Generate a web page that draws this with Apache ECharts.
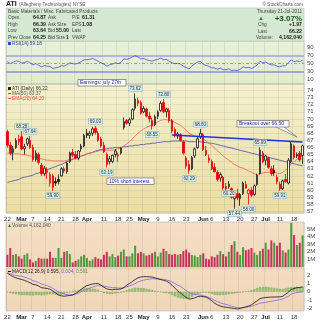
<!DOCTYPE html>
<html><head><meta charset="utf-8">
<script src="https://cdn.jsdelivr.net/npm/echarts@6/dist/echarts.min.js"></script>
<style>html,body{margin:0;padding:0;background:#fff}#c{width:320px;height:320px}</style>
</head><body><div id="c"></div>
<script>
const dates = ['02-22','02-23','02-24','02-25','02-28',
'03-01','03-02','03-03','03-04','03-07','03-08','03-09','03-10','03-11','03-14','03-15','03-16','03-17','03-18','03-21','03-22','03-23','03-24','03-25','03-28','03-29','03-30','03-31',
'04-01','04-04','04-05','04-06','04-07','04-08','04-11','04-12','04-13','04-14','04-15','04-18','04-19','04-20','04-21','04-25','04-26','04-27','04-28','04-29',
'05-02','05-03','05-04','05-05','05-06','05-09','05-10','05-11','05-12','05-13','05-16','05-17','05-18','05-19','05-20','05-23','05-24','05-25','05-26','05-27','05-31',
'06-01','06-02','06-03','06-06','06-07','06-08','06-09','06-10','06-13','06-14','06-15','06-16','06-17','06-20','06-21','06-22','06-23','06-24','06-27','06-28','06-29','06-30',
'07-01','07-05','07-06','07-07','07-08','07-11','07-12','07-13','07-14','07-15','07-18','07-19','07-20','07-21'];

const opens = [68.2,66.3,65.3,66.0,67.2,67.5,65.8,66.5,67.0,66.0,64.3,65.0,63.5,62.3,62.5,61.0,62.0,61.2,61.5,62.0,63.0,62.6,64.0,65.3,65.0,64.5,65.8,66.2,68.0,67.7,68.0,68.7,68.0,67.2,66.3,65.0,64.0,64.0,65.0,64.8,65.2,68.8,69.8,69.4,70.0,71.5,72.6,72.3,71.0,71.4,70.4,69.8,69.2,70.4,71.2,72.3,71.0,71.2,69.8,68.5,67.6,67.8,66.8,64.5,63.6,63.0,64.8,66.0,67.5,67.8,65.6,64.5,64.0,63.2,62.5,61.7,61.8,60.5,60.5,60.2,58.8,59.5,58.8,59.5,60.8,59.5,60.0,59.4,60.8,62.3,65.2,64.2,64.5,63.0,62.8,61.8,60.8,60.2,61.5,61.0,64.0,66.2,64.8,65.2,64.87];
const highs = [68.5,66.8,66.2,67.3,67.8,68.3,66.5,67.4,67.6,66.4,65.6,65.3,63.8,63.4,63.2,62.5,62.3,61.8,62.2,63.2,63.3,64.0,65.4,65.8,65.5,65.6,66.5,67.9,68.6,68.3,68.9,69.0,68.3,67.5,66.8,65.3,64.8,65.0,65.8,65.3,66.0,70.2,70.0,70.2,71.5,73.6,73.0,72.6,71.8,71.6,71.0,70.2,70.6,71.2,72.5,72.8,71.6,71.5,70.0,68.8,68.2,68.0,67.0,64.8,64.2,64.8,66.0,67.5,68.6,68.0,66.2,65.0,64.3,63.8,62.8,62.5,62.0,61.0,61.3,60.4,59.6,60.2,59.6,61.2,61.3,60.2,60.4,60.8,62.3,66.0,65.5,65.0,64.7,63.4,63.5,62.2,61.2,61.5,62.3,64.5,66.8,66.4,65.3,65.5,66.39];
const lows = [66.0,64.9,64.2,65.8,66.3,65.6,65.0,66.2,65.8,64.0,64.0,63.6,62.0,62.0,61.6,60.5,59.9,60.6,60.8,61.9,62.4,62.3,63.8,64.6,64.3,64.2,65.4,66.0,67.3,67.2,67.6,67.8,66.8,66.0,65.2,63.2,63.6,63.8,64.6,64.0,65.0,68.5,69.2,69.0,69.8,71.2,71.8,70.6,70.8,70.2,69.5,68.5,69.0,70.0,71.0,70.8,70.2,69.5,68.0,67.4,67.2,66.8,65.0,63.0,62.3,62.8,64.5,65.8,67.2,65.5,64.8,63.8,62.8,62.5,61.2,61.2,60.0,59.8,60.2,58.8,57.4,58.6,57.8,59.3,60.2,58.0,59.0,59.2,60.6,62.2,63.8,63.5,63.0,62.0,62.0,60.8,59.9,60.0,61.0,60.8,63.8,64.3,64.5,64.0,63.64];
const closes = [66.3,65.2,65.8,67.0,66.8,65.8,66.1,67.2,66.0,64.3,65.2,63.9,62.3,63.1,62.8,62.2,60.4,61.0,61.2,63.0,62.7,63.8,65.2,64.9,64.5,65.5,66.2,67.7,67.7,68.0,68.6,68.1,67.0,66.2,65.4,63.6,64.4,64.9,65.5,65.0,65.9,69.6,69.4,69.9,71.3,72.8,72.2,70.8,71.5,70.4,70.0,69.0,70.3,71.0,72.2,71.0,71.4,69.8,68.3,67.6,67.9,67.0,65.2,63.4,62.8,64.6,65.8,67.2,68.0,65.7,65.0,64.2,63.0,62.6,61.5,62.2,60.3,60.2,60.8,59.0,59.2,58.9,59.4,61.0,60.3,60.0,59.3,60.6,62.1,65.6,64.0,64.8,63.2,62.3,62.4,61.2,60.2,61.3,61.2,64.2,66.5,64.6,65.0,64.25,66.22];
const volumes = [1.6,2.5,1.6,1.7,1.4,1.1,1.6,1.8,1.0,0.6,0.8,1.2,1.1,1.1,1.1,2.0,1.2,1.2,2.5,1.2,2.0,2.1,1.7,0.6,0.8,1.0,1.4,1.6,1.2,0.8,1.0,1.3,1.1,1.0,1.6,2.0,1.4,1.7,1.3,1.5,2.0,2.3,1.4,1.4,1.8,2.8,1.8,2.0,1.8,1.5,1.6,1.8,2.0,1.4,1.9,2.4,2.1,1.7,1.6,1.7,1.6,1.7,2.1,2.3,1.9,1.6,1.5,1.3,1.6,1.8,1.1,1.0,1.4,1.3,1.6,2.1,1.7,1.4,2.0,2.9,3.4,2.0,1.6,2.6,2.2,2.3,2.5,1.9,1.6,2.1,2.4,3.2,2.3,3.5,3.2,2.8,3.2,2.2,1.9,2.3,5.8,4.2,2.9,3.2,4.16];
const ma50 = [61.1,61.2,61.3,61.4,61.5,61.7,61.8,61.9,62.0,62.1,62.3,62.4,62.6,62.7,62.9,63.0,63.2,63.3,63.5,63.6,63.8,64.0,64.2,64.3,64.5,64.6,64.8,64.9,65.1,65.2,65.3,65.5,65.6,65.7,65.8,65.8,65.9,65.9,66.0,66.0,66.0,66.1,66.1,66.2,66.2,66.3,66.3,66.4,66.4,66.5,66.5,66.6,66.6,66.7,66.7,66.8,66.8,66.8,66.9,66.9,66.9,66.9,66.9,66.9,66.8,66.8,66.8,66.8,66.8,66.7,66.7,66.6,66.6,66.5,66.4,66.3,66.2,66.1,66.0,65.9,65.8,65.7,65.6,65.5,65.4,65.3,65.2,65.1,65.0,64.9,64.8,64.7,64.6,64.5,64.4,64.3,64.2,64.1,64.0,63.9,63.8,63.7,63.6,63.5,63.4];
const ema20 = [65.2,65.2,65.1,65.1,65.1,65.0,65.0,64.9,64.8,64.7,64.6,64.5,64.4,64.3,64.2,64.2,64.1,64.1,64.1,64.1,64.1,64.2,64.3,64.4,64.5,64.6,64.8,64.9,65.1,65.2,65.3,65.4,65.5,65.6,65.6,65.6,65.6,65.6,65.7,65.8,65.9,66.2,66.5,66.8,67.2,67.6,68.0,68.3,68.6,68.8,69.0,69.2,69.4,69.6,69.8,69.9,69.9,69.8,69.7,69.5,69.3,69.1,68.8,68.4,68.0,67.8,67.6,67.5,67.4,67.2,66.9,66.6,66.3,65.9,65.5,65.2,64.8,64.5,64.2,63.9,63.6,63.4,63.2,63.1,62.9,62.7,62.5,62.3,62.2,62.3,62.4,62.5,62.5,62.5,62.5,62.4,62.3,62.5,62.8,63.2,63.7,64.0,64.3,64.6,64.9];
const rsi = [55,50,53,57,56,52,53,56,52,47,50,46,42,45,44,43,38,40,41,45,44,48,52,50,49,52,55,60,60,61,63,60,56,52,49,44,47,49,52,50,53,62,61,63,67,70,67,62,63,60,58,56,59,61,64,60,61,56,52,50,51,49,44,40,37,44,50,54,56,48,46,43,40,39,36,39,35,35,37,33,34,33,36,42,40,41,38,42,47,56,52,54,50,47,47,44,42,45,45,52,60,55,57,55,59.18];
const macd = [2.27,2.05,1.85,1.7,1.6,1.5,1.4,1.25,1.1,0.9,0.85,0.7,0.5,0.45,0.4,0.3,0.1,-0.15,-0.4,-0.5,-0.55,-0.5,-0.45,-0.4,-0.2,0.0,0.3,0.55,0.75,0.85,0.95,1.0,1.0,0.8,0.55,0.35,0.28,0.25,0.3,0.3,0.35,0.5,0.8,1.0,1.25,1.5,1.7,1.8,1.85,1.85,1.83,1.8,1.7,1.6,1.5,1.4,1.3,1.1,0.8,0.45,0.1,-0.15,-0.45,-0.7,-0.9,-0.85,-0.75,-0.6,-0.55,-0.6,-0.65,-0.85,-1.1,-1.4,-1.6,-1.75,-1.85,-1.9,-1.95,-2.0,-2.05,-2.1,-2.05,-1.95,-1.85,-1.75,-1.6,-1.35,-1.1,-0.85,-0.75,-0.7,-0.68,-0.65,-0.65,-0.64,-0.63,-0.55,-0.3,-0.05,0.28,0.4,0.5,0.52,0.595];
const signal = [2.32,2.2,2.1,2.0,1.95,1.9,1.8,1.67,1.55,1.35,1.25,1.12,0.95,0.85,0.75,0.6,0.4,0.2,0.0,-0.15,-0.3,-0.35,-0.4,-0.4,-0.3,-0.2,0.0,0.17,0.33,0.45,0.57,0.67,0.75,0.75,0.7,0.6,0.56,0.5,0.5,0.45,0.45,0.5,0.6,0.7,0.85,1.0,1.2,1.32,1.43,1.5,1.55,1.6,1.58,1.55,1.55,1.52,1.45,1.35,1.2,1.0,0.8,0.65,0.4,0.15,-0.1,-0.25,-0.35,-0.35,-0.4,-0.5,-0.57,-0.7,-0.85,-1.05,-1.2,-1.35,-1.47,-1.55,-1.65,-1.75,-1.85,-1.95,-1.97,-1.95,-1.9,-1.85,-1.78,-1.65,-1.55,-1.4,-1.35,-1.3,-1.23,-1.15,-1.1,-1.04,-0.98,-0.9,-0.72,-0.55,-0.27,-0.18,-0.1,-0.06,0.004];
const hist = [-0.05,-0.15,-0.25,-0.3,-0.35,-0.4,-0.4,-0.42,-0.45,-0.45,-0.4,-0.42,-0.45,-0.4,-0.35,-0.3,-0.3,-0.35,-0.4,-0.35,-0.25,-0.15,-0.05,0.0,0.1,0.2,0.3,0.38,0.42,0.4,0.38,0.33,0.25,0.05,-0.15,-0.25,-0.28,-0.25,-0.2,-0.15,-0.1,0.0,0.2,0.3,0.4,0.5,0.5,0.48,0.42,0.35,0.28,0.2,0.12,0.05,-0.05,-0.12,-0.15,-0.25,-0.4,-0.55,-0.7,-0.8,-0.85,-0.85,-0.8,-0.6,-0.4,-0.25,-0.15,-0.1,-0.08,-0.15,-0.25,-0.35,-0.4,-0.4,-0.38,-0.35,-0.3,-0.25,-0.2,-0.15,-0.08,0.0,0.05,0.1,0.18,0.3,0.45,0.55,0.6,0.6,0.55,0.5,0.45,0.4,0.35,0.35,0.42,0.5,0.55,0.58,0.6,0.58,0.591];
const prevClose0 = 68.0;

const tickDates = ['02-22','03-01','03-07','03-14','03-21','03-28','04-01','04-11','04-18','04-25','05-02','05-09','05-16','05-23','06-01','06-06','06-13','06-20','06-27','07-01','07-11','07-18'];
const tickLabels = ['22','Mar','7','14','21','28','Apr','11','18','25','May','9','16','23','Jun','6','13','20','27','Jul','11','18'];
const monthLabels = ['Mar','Apr','May','Jun','Jul'];

const peakDates = ['03-01','03-04','03-16','04-06','04-12','04-27','05-05','05-11','05-24','05-31','06-14','06-16','06-23','06-29','07-11'];
const peakValues = [68.3,67.6,59.9,69.0,63.2,73.6,68.5,72.8,62.3,68.6,60.2,57.4,58.0,66.0,59.9];
const peakSides = ['top','top','bottom','top','bottom','top','bottom','top','bottom','top','bottom','bottom','bottom','top','bottom'];
const peakTexts = ['68.28','67.64','59.90','69.03','63.19','73.62','68.55','72.80','62.29','68.60','60.20','57.44','58.00','65.99','59.91'];

const trendDates = ['05-16','07-21'];
const trendValues = [67.75,66.75];

const FONT = 'Liberation Sans';
const tickMap = {}; tickDates.forEach((d,i)=>tickMap[d]=tickLabels[i]);
const tickIdx = new Set(tickDates.map(d=>dates.indexOf(d)));

const candleData = dates.map((d,i)=>{
  const o=opens[i], c=closes[i], prev = i>0?closes[i-1]:prevClose0;
  const col = c < prev ? '#e8000b' : '#111111';
  const fill = c < o ? col : '#fffdf0';
  return {value:[o,c,lows[i],highs[i]], itemStyle:{color:fill,color0:fill,borderColor:col,borderColor0:col,borderWidth:0.8}};
});
const volData = dates.map((d,i)=>{
  const prev = i>0?closes[i-1]:prevClose0;
  return {value:volumes[i], itemStyle:{color: closes[i] >= prev ? '#4f9a3f' : '#c9305e'}};
});

function xAx(gi, showLabel){
  return {type:'category', gridIndex:gi, data:dates, boundaryGap:true,
    axisLine:{show:false}, axisTick:{show:false},
    axisLabel:{show:showLabel, interval:(i)=>tickIdx.has(i), fontSize:6, margin:3, color:'#333', fontFamily:FONT,
      formatter:(v)=>{const t=tickMap[v]||''; return monthLabels.includes(t)?'{b|'+t+'}':t;},
      rich:{b:{fontWeight:'bold',fontSize:6,color:'#222',fontFamily:FONT}}},
    splitLine:{show:true, interval:(i)=>tickIdx.has(i), lineStyle:{color:'rgba(120,120,120,0.25)',width:0.6}}};
}
function yAx(gi, min, max, step, fmt, split){
  return {type:'value', gridIndex:gi, position:'right', min:min, max:max, minInterval:step, maxInterval:step,
    axisLine:{show:false}, axisTick:{show:false}, showMinLabel:true, showMaxLabel:true,
    axisLabel:{fontSize:6, margin:3, color:'#444', fontFamily:FONT, formatter:fmt},
    splitLine:{show:split, lineStyle:{color:'rgba(120,120,120,0.22)',width:0.6}}};
}
const isInt = v => Math.abs(v-Math.round(v))<1e-6;
function grad(a,b){return new echarts.graphic.LinearGradient(0,0,0,1,[{offset:0,color:a},{offset:1,color:b}]);}

function txt(x,y,text,size,color,weight,align){
  return {type:'text', x:x, y:y, silent:true, z:50, style:{text:text, fill:color||'#333', font:(weight||'normal')+' '+size+'px '+FONT, align:align||'left', verticalAlign:'middle'}};
}

const markPts = peakDates.map((d,i)=>({coord:[d,peakValues[i]], value:peakValues[i],
  label:{position:peakSides[i], distance:2, formatter:peakTexts[i]}}));

const L = 4.7, V = 5.2;
const graphics = [
  {type:'rect', shape:{x:6,y:8,width:298,height:33}, style:{fill:'#d4e8d2',stroke:'#b4c8b2',lineWidth:0.6}, z:1},
  txt(6,4.5,'ATI',7,'#111','bold'),
  txt(19,4.8,'(Allegheny Technologies) NYSE',4.7,'#555'),
  txt(303,4.8,'© StockCharts.com',4.7,'#555','normal','right'),
  txt(8,11.5,'Basic Materials / Misc. Fabricated Products',L,'#444'),
  txt(302,11.5,'Thursday 21-Jul-2011',L,'#444','normal','right'),
  txt(8,18,'Open',L,'#444'), txt(33,18,'64.87',V,'#222','bold'), txt(48,18,'Ask',L,'#444'), txt(72,18,'P/E',L,'#444'), txt(82,18,'61.31',V,'#222','bold'),
  txt(8,24.5,'High',L,'#444'), txt(33,24.5,'66.39',V,'#222','bold'), txt(48,24.5,'Ask Size',L,'#444'), txt(72,24.5,'EPS',L,'#444'), txt(82,24.5,'1.08',V,'#222','bold'),
  txt(8,31,'Low',L,'#444'), txt(33,31,'63.64',V,'#222','bold'), txt(48,31,'Bid',L,'#444'), txt(56,31,'55.00',V,'#222','bold'), txt(72,31,'Last',L,'#444'),
  txt(8,37.5,'Prev Close',L,'#444'), txt(33,37.5,'64.25',V,'#222','bold'), txt(48,37.5,'Bid Size',L,'#444'), txt(66,37.5,'1',V,'#222','bold'), txt(72,37.5,'VWAP',L,'#444'),
  txt(258,18.5,'▲',6,'#1e8c1e'),
  txt(302,18.5,'+3.07%',8,'#1c4f1c','bold','right'),
  txt(258,25,'Chg',L,'#444'), txt(302,25,'+1.97',V,'#222','bold','right'),
  txt(258,31.5,'Last',L,'#444'), txt(302,31.5,'66.22',V,'#222','bold','right'),
  txt(256,38,'Volume:',L,'#444'), txt(302,38,'4,162,040',V,'#222','bold','right'),
  {type:'rect', shape:{x:8,y:42,width:3,height:3}, style:{fill:'#3344cc'}, z:50},
  txt(12,44,'RSI(14) 59.18',4.8,'#3344aa'),
  {type:'rect', shape:{x:8,y:87,width:3,height:3}, style:{fill:'#222'}, z:50},
  txt(12,88.5,'ATI (Daily) 66.22',4.8,'#333'),
  {type:'line', shape:{x1:8,y1:93.5,x2:11,y2:93.5}, style:{stroke:'#6a6aa8',lineWidth:1}, z:50},
  txt(12,93.5,'MA(50) 63.37',4.8,'#555'),
  {type:'line', shape:{x1:8,y1:98.5,x2:11,y2:98.5}, style:{stroke:'#f06050',lineWidth:1}, z:50},
  txt(12,98.5,'EMA(20) 64.20',4.8,'#e05040'),
  {type:'rect', shape:{x:78,y:79.5,width:48,height:6.5}, style:{fill:'#ffffff',stroke:'#555',lineWidth:0.6}, z:50},
  txt(80,82.8,'Earnings: july 27th',5,'#1a1a9a'),
  {type:'polyline', shape:{points:[[276,127],[297,137],[284,127]]}, style:{fill:'#fff',stroke:'#555',lineWidth:0.6}, z:50},
  {type:'rect', shape:{x:237,y:120.5,width:52,height:6.5}, style:{fill:'#ffffff',stroke:'#555',lineWidth:0.6}, z:50},
  txt(239,123.8,'Breakout over 66.50',5,'#1a1a9a'),
  {type:'rect', shape:{x:107,y:178,width:47,height:6.5}, style:{fill:'#ffffff',stroke:'#555',lineWidth:0.6}, z:50},
  txt(109,181.3,'10% short interest',5,'#1a1a9a'),
  {type:'polygon', shape:{points:[[8,227],[11,227],[9.5,224]]}, style:{fill:'#2a8a2a'}, z:50},
  txt(12,225.5,'Volume 4,162,040',4.8,'#555'),
  {type:'line', shape:{x1:8,y1:271.5,x2:11,y2:271.5}, style:{stroke:'#000',lineWidth:1}, z:50},
  {type:'text', x:12, y:271.5, z:50, silent:true, style:{text:'{k|MACD(12,26,9) 0.595,} {p|0.004,} {g|0.591}', verticalAlign:'middle', font:'4.8px '+FONT,
    rich:{k:{fill:'#222',font:'4.8px '+FONT},p:{fill:'#6a5ae0',font:'4.8px '+FONT},g:{fill:'#4a9a3a',font:'4.8px '+FONT}}}}
];

const option = {
  animation:false,
  textStyle:{fontFamily:FONT},
  grid:[
    {left:6,right:16,top:41,height:43,show:true,backgroundColor:grad('#e8f0da','#e2ebcf'),borderColor:'#b0b8a0',borderWidth:0.6},
    {left:6,right:16,top:84,height:129,show:true,backgroundColor:grad('#f3f1cf','#ecdda2'),borderColor:'#b8b090',borderWidth:0.6},
    {left:6,right:16,top:222,height:45,show:true,backgroundColor:grad('#f4e0c6','#f1d8ba'),borderColor:'#c0b098',borderWidth:0.6},
    {left:6,right:16,top:268,height:44,show:true,backgroundColor:grad('#f3dcc2','#f0d6b8'),borderColor:'#c0b098',borderWidth:0.6}
  ],
  xAxis:[xAx(0,false),xAx(1,true),xAx(2,false),xAx(3,true)],
  yAxis:[
    yAx(0,-0.75,106.75,10,(v)=>[10,30,50,70,90].includes(Math.round(v))&&isInt(v)?String(Math.round(v)):'',false),
    yAx(1,56.79,74.91,1,(v)=>isInt(v)?String(Math.round(v)):'',true),
    yAx(2,0,5.92,1,(v)=>isInt(v)&&v>0?Math.round(v)+'M':'',false),
    yAx(3,-2.36,2.91,1,(v)=>isInt(v)?String(Math.round(v)):'',false)
  ],
  graphic:graphics,
  series:[
    {type:'line', xAxisIndex:0, yAxisIndex:0, data:rsi, symbol:'none', lineStyle:{color:'#4050d0',width:0.8}, z:5,
      markLine:{silent:true, symbol:'none', label:{show:false},
        data:[{yAxis:70,lineStyle:{color:'#9ca2dc',width:1.6,type:'solid'}},{yAxis:30,lineStyle:{color:'#8a90d6',width:1.6,type:'solid'}},{yAxis:50,lineStyle:{color:'#6a78c8',width:0.7,type:[3,2,1,2]}}]}},
    {type:'candlestick', xAxisIndex:1, yAxisIndex:1, data:candleData, barWidth:2, z:4,
      markPoint:{symbol:'circle', symbolSize:0.1, silent:true, data:markPts,
        label:{show:true, fontSize:4.5, color:'#333', backgroundColor:'#d4eef0', borderColor:'#8aaab0', borderWidth:0.5, padding:[0.5,1,0,1], fontFamily:FONT}},
      markLine:{silent:true, symbol:'none', label:{show:false},
        data:[[{coord:[trendDates[0],trendValues[0]]},{coord:[trendDates[1],trendValues[1]]}]],
        lineStyle:{color:'#1f2fe0',width:1.5,type:'solid'}}},
    {type:'line', xAxisIndex:1, yAxisIndex:1, data:ma50, symbol:'none', lineStyle:{color:'#6a6aa8',width:1}, z:3},
    {type:'line', xAxisIndex:1, yAxisIndex:1, data:ema20, symbol:'none', lineStyle:{color:'#f06050',width:0.8}, z:3},
    {type:'bar', xAxisIndex:2, yAxisIndex:2, data:volData, barWidth:2},
    {type:'bar', xAxisIndex:3, yAxisIndex:3, data:hist, barWidth:2, itemStyle:{color:'#9ccf80',borderColor:'#5f9a45',borderWidth:0.4}},
    {type:'line', xAxisIndex:3, yAxisIndex:3, data:signal, symbol:'none', lineStyle:{color:'#7a68e8',width:0.8}, z:5},
    {type:'line', xAxisIndex:3, yAxisIndex:3, data:macd, symbol:'none', lineStyle:{color:'#111',width:0.8}, z:6}
  ]
};
const chart = echarts.init(document.getElementById('c'), null, {renderer:'canvas', width:320, height:320});
chart.setOption(option);
</script>
</body></html>
